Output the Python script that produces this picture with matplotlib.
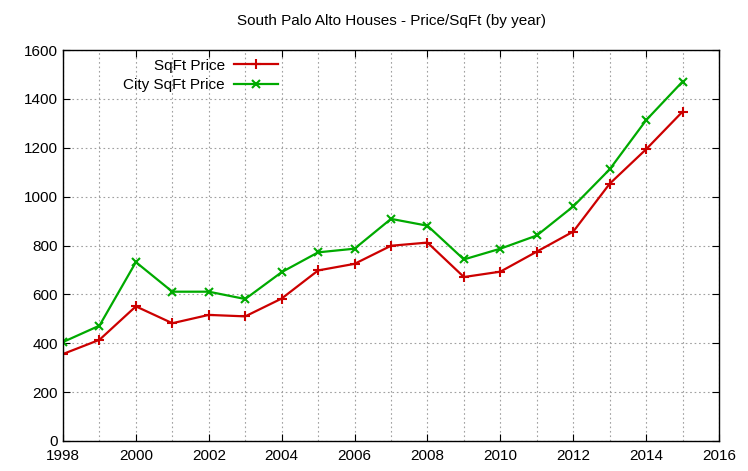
import matplotlib
matplotlib.use("Agg")
import matplotlib.pyplot as plt
from matplotlib.ticker import MultipleLocator

years = list(range(1998, 2016))
sqft_price = [356, 414, 551, 482, 516, 510, 583, 698, 725, 799, 812, 671, 693, 775, 857, 1053, 1194, 1348]
city_sqft_price = [405, 472, 732, 611, 611, 581, 691, 772, 787, 909, 881, 743, 787, 841, 960, 1112, 1313, 1471]

plt.rcParams['font.family'] = ['Liberation Sans', 'DejaVu Sans']

fig = plt.figure(figsize=(7.48, 4.71), dpi=100)
ax = fig.add_axes([0.0842, 0.0637, 0.8771, 0.8301])

ax.plot(years, sqft_price, color='#cc0000', lw=1.6, marker='+', ms=7, mew=1.5, label='SqFt Price')
ax.plot(years, city_sqft_price, color='#00aa00', lw=1.6, marker='x', ms=5.5, mew=1.5, label='City SqFt Price')

ax.set_xlim(1998, 2016)
ax.set_ylim(0, 1600)
ax.xaxis.set_major_locator(MultipleLocator(2))
ax.xaxis.set_minor_locator(MultipleLocator(1))
ax.yaxis.set_major_locator(MultipleLocator(200))
ax.grid(True, which='both', axis='x', color='#a0a0a0', ls=(0, (1.5, 2.5)), lw=0.8)
ax.grid(True, which='major', axis='y', color='#a0a0a0', ls=(0, (1.5, 2.5)), lw=0.8)
ax.tick_params(which='both', direction='in', top=True, right=True, labelsize=11, colors='black')
ax.tick_params(which='major', length=5)
ax.tick_params(which='minor', length=0)
ax.tick_params(axis='x', pad=6)
for s in ax.spines.values():
    s.set_linewidth(1.0)

ax.set_title('South Palo Alto Houses - Price/SqFt (by year)', fontsize=11, pad=18)

leg = ax.legend(loc='upper left', bbox_to_anchor=(0.071, 1.013), frameon=False, markerfirst=False,
                fontsize=11, handlelength=2.9, labelspacing=0.35, handletextpad=0.6)
for t in leg.get_texts():
    t.set_ha('right')
leg._legend_box.align = 'right'

fig.savefig('out.png', dpi=100)
